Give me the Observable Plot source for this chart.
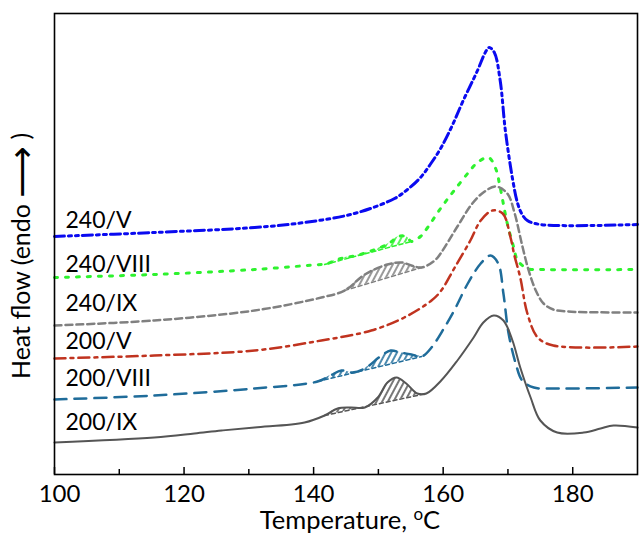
<!DOCTYPE html>
<html><head><meta charset="utf-8">
<script src="https://cdn.jsdelivr.net/npm/d3@7"></script>
<script src="https://cdn.jsdelivr.net/npm/@observablehq/plot@0.6"></script>
<style>body{margin:0;background:#fff;} svg{display:block}</style>
</head><body><div id="chart"></div>
<script>
// ---- data (temperature °C, heat flow in arbitrary units, curves offset) ----
const seriesNames = ["240/V", "240/VIII", "240/IX", "200/V", "200/VIII", "200/IX"];

const t_240V  = [100, 115.4, 130.9, 138.6, 146.3, 152.5, 154.5, 156.5, 158.0, 159.6, 161.4, 163.1, 165.3, 166.5, 167.1, 167.9, 168.8, 169.6, 170.7, 171.5, 172.2, 173.0, 175.0, 190];
const hf_240V = [23.8, 24.2, 24.7, 25.2, 26.1, 27.6, 28.5, 29.7, 31.0, 32.6, 34.9, 37.4, 40.4, 42.2, 42.7, 42.2, 39.4, 34.4, 29.6, 27.1, 26.0, 25.4, 25.0, 25.0];

const t_240VIII  = [100, 115.4, 130.9, 141.2, 141.7, 144.2, 146.6, 149.1, 151.6, 153.1, 154.3, 155.1, 156.5, 157.6, 159.7, 161.7, 163.9, 165.3, 167.0, 168.1, 168.8, 169.9, 170.9, 171.5, 173.0, 175.0, 190];
const hf_240VIII = [19.7, 20.0, 20.5, 21.0, 21.0, 21.6, 21.9, 22.4, 23.1, 23.8, 23.8, 23.3, 23.8, 24.7, 26.7, 28.4, 30.2, 31.2, 31.7, 30.6, 28.7, 25.1, 22.7, 21.4, 20.6, 20.5, 20.5];

const t_240IX  = [100, 115.4, 130.9, 141.2, 144.8, 147.9, 151.4, 153.6, 155.1, 156.7, 158.7, 159.6, 162.2, 164.5, 166.2, 168.1, 169.9, 171.0, 172.2, 173.2, 174.3, 175.5, 177.0, 179.2, 190];
const hf_240IX = [14.9, 15.4, 16.4, 17.7, 18.4, 20.0, 21.0, 21.2, 20.9, 20.7, 21.4, 22.1, 24.8, 27.1, 28.2, 28.8, 28.1, 26.2, 22.9, 20.4, 18.4, 17.1, 16.5, 16.3, 16.2];

const t_200V  = [100, 115.4, 130.9, 141.2, 148.9, 154.0, 158.2, 159.7, 161.7, 164.2, 165.8, 167.6, 169.2, 170.4, 171.0, 171.9, 173.0, 174.6, 177.0, 190];
const hf_200V = [11.6, 11.9, 12.4, 13.4, 14.4, 15.7, 17.4, 18.4, 20.6, 23.4, 25.4, 26.4, 26.1, 23.7, 21.9, 19.7, 16.1, 13.7, 12.9, 12.8];

const t_200VIII  = [100, 115.4, 130.9, 140.6, 142.6, 144.3, 146.0, 147.9, 150.3, 151.9, 153.4, 155.1, 156.7, 158.2, 160.2, 161.7, 163.8, 165.8, 167.3, 168.5, 169.3, 170.1, 171.2, 172.2, 174.0, 177.0, 190];
const hf_200VIII = [7.5, 7.9, 8.6, 9.3, 9.9, 10.4, 10.2, 10.6, 11.8, 12.4, 12.2, 12.0, 11.8, 12.7, 14.7, 16.4, 19.1, 21.1, 21.9, 21.1, 18.1, 14.1, 11.1, 9.4, 8.7, 8.6, 8.7];

const t_200IX  = [100, 115.4, 121.6, 125.8, 130.9, 138.6, 141.7, 143.7, 145.7, 147.9, 149.9, 151.4, 152.8, 154.3, 156.0, 157.4, 159.7, 162.2, 164.7, 166.2, 167.8, 169.3, 170.7, 171.9, 173.5, 175.0, 177.6, 181.7, 184.3, 186.3, 190];
const hf_200IX = [3.2, 3.7, 4.1, 4.4, 4.7, 5.2, 5.9, 6.6, 6.7, 6.7, 7.7, 9.2, 9.7, 9.1, 8.1, 8.1, 9.4, 11.4, 13.7, 15.2, 15.9, 15.4, 13.4, 10.7, 7.7, 5.4, 4.2, 4.2, 4.6, 4.9, 4.7];

// integration baselines of the hatched areas: [t0, hf0, t1, hf1]
const base_240VIII = [141.7, 21.0, 155.1, 23.3];
const base_240IX   = [144.8, 18.4, 156.7, 20.7];
const base_200VIII = [140.6, 9.3, 156.7, 11.8];
const base_200IX   = [141.7, 5.9, 157.4, 8.1];

// curve labels
const labelT  = [101.7, 101.7, 101.7, 101.7, 101.7, 101.7];
const labelHF = [25.4, 20.95, 17.05, 13.3, 9.6, 5.2];

const majorTicks = [100, 120, 140, 160, 180];
const minorTicks = [110, 130, 150, 170];

// ---- styles ----
const styles = {
  "240/V":    {id: "bl", stroke: "#0a0af0", width: 3,   dash: "10,4,3,4,3,4"},
  "240/VIII": {id: "gr", stroke: "#2ef22e", width: 3,   dash: "3,8"},
  "240/IX":   {id: "gy", stroke: "#808080", width: 2.5, dash: "7,4"},
  "200/V":    {id: "rd", stroke: "#c0331f", width: 2.5, dash: "11,5,3,5"},
  "200/VIII": {id: "tl", stroke: "#1f6c9a", width: 2.5, dash: "12,8"},
  "200/IX":   {id: "bk", stroke: "#555555", width: 2,   dash: null}
};

const seriesT  = [t_240V, t_240VIII, t_240IX, t_200V, t_200VIII, t_200IX];
const seriesHF = [hf_240V, hf_240VIII, hf_240IX, hf_200V, hf_200VIII, hf_200IX];
const seriesBase = [null, base_240VIII, base_240IX, null, base_200VIII, base_200IX];

const marks = [];
seriesNames.forEach((name, k) => {
  const st = styles[name];
  const rows = seriesT[k].map((t, i) => ({t, hf: seriesHF[k][i]}));
  const b = seriesBase[k];
  if (b) {
    const [t0, y0, t1, y1] = b;
    const hr = rows.filter(d => d.t >= t0 - 1e-9 && d.t <= t1 + 1e-9)
      .map(d => ({...d, base: y0 + (y1 - y0) * (d.t - t0) / (t1 - t0)}));
    marks.push(Plot.areaY(hr, {x: "t", y1: "base", y2: "hf", fill: `url(#hatch-${st.id})`, curve: "catmull-rom"}));
    marks.push(Plot.line([{t: t0, hf: y0}, {t: t1, hf: y1}], {x: "t", y: "hf", stroke: st.stroke, strokeWidth: 1.5, strokeDasharray: "4,3"}));
  }
  marks.push(Plot.line(rows, {x: "t", y: "hf", stroke: st.stroke, strokeWidth: st.width,
    strokeDasharray: st.dash, curve: "catmull-rom"}));
});

const labels = seriesNames.map((n, i) => ({n, t: labelT[i], hf: labelHF[i]}));

const chart = Plot.plot({
  width: 639, height: 537,
  marginLeft: 54, marginRight: 2, marginTop: 13, marginBottom: 63,
  style: {fontFamily: "Lato, sans-serif", fontSize: "23px", color: "#000", background: "#fff"},
  x: {domain: [100, 190]},
  y: {domain: [0, 46.1], axis: null},
  marks: [
    ...marks,
    Plot.text(labels, {x: "t", y: "hf", text: "n", textAnchor: "start", lineAnchor: "middle", fontSize: 23, fill: "#000"}),
    Plot.tickX(majorTicks, {x: d => d, insetTop: 454, stroke: "#000", strokeWidth: 1.5}),
    Plot.tickX(minorTicks, {x: d => d, insetTop: 456, stroke: "#000", strokeWidth: 1.5}),
    Plot.axisX(majorTicks.slice(1), {tickSize: 0, tickPadding: 10, label: null, fontSize: 24}),
    Plot.axisX(majorTicks.slice(0, 1), {tickSize: 0, tickPadding: 10, label: null, fontSize: 24, dx: 5}),
    Plot.frame({stroke: "#000", strokeWidth: 1.6})
  ]
});

document.getElementById("chart").appendChild(chart);
const svg = d3.select(chart);
const defs = svg.insert("defs", ":first-child");
Object.values(styles).forEach(st => {
  const p = defs.append("pattern").attr("id", `hatch-${st.id}`).attr("patternUnits", "userSpaceOnUse")
    .attr("width", 5).attr("height", 5).attr("patternTransform", "rotate(28)");
  p.append("line").attr("x1", 1).attr("y1", 0).attr("x2", 1).attr("y2", 5)
    .attr("stroke", st.stroke).attr("stroke-width", 1.6);
});

// axis titles
const xt = svg.append("text").attr("x", 350).attr("y", 529).attr("text-anchor", "middle")
  .attr("font-family", "Lato, sans-serif").attr("font-size", 25.5).attr("fill", "#000");
xt.append("tspan").text("Temperature, ");
xt.append("tspan").attr("font-size", 17).attr("dy", -9).text("o");
xt.append("tspan").attr("dy", 9).text("C");

const yt = svg.append("text").attr("transform", "translate(24,256) rotate(-90)").attr("text-anchor", "middle")
  .attr("dominant-baseline", "middle")
  .attr("font-family", "Lato, sans-serif").attr("font-size", 25).attr("fill", "#000");
yt.append("tspan").text("Heat flow (endo ");
yt.append("tspan").attr("font-size", 36).attr("font-family", "DejaVu Sans").text("\u27F6");
yt.append("tspan").text(" )");
</script>
</body></html>
